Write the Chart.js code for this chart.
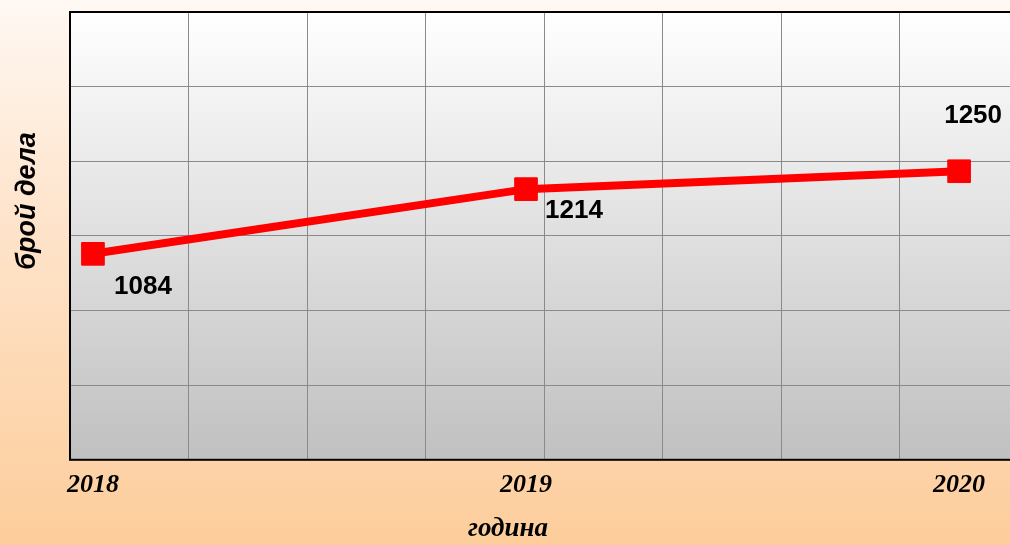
<!DOCTYPE html>
<html>
<head>
<meta charset="utf-8">
<script src="https://cdn.jsdelivr.net/npm/chart.js@4"></script>
<style>
  html, body { margin: 0; padding: 0; width: 1010px; height: 545px; overflow: hidden; }
  body { background: linear-gradient(to bottom, #fff8f3 0%, #fee4cc 40%, #fdcd9b 100%); }
  #wrap { width: 1030px; height: 545px; }
</style>
</head>
<body>
<div id="wrap"><canvas id="c" width="1030" height="545"></canvas></div>
<script>
// ---- data ----
const years = [2018, 2019, 2020];
const cases = [1084, 1214, 1250];
const yAxisTitle = 'брой дела';
const xAxisTitle = 'година';

const labelOffsets = [[50, 33], [48, 22], [14, -55]];

const bgPlugin = {
  id: 'bgPlugin',
  beforeDraw(chart) {
    const {ctx, chartArea: a} = chart;
    const g = ctx.createLinearGradient(0, a.top, 0, a.bottom);
    g.addColorStop(0, '#ffffff');
    g.addColorStop(1, '#c0c0c0');
    ctx.save();
    ctx.fillStyle = g;
    ctx.fillRect(a.left, a.top, a.right - a.left, a.bottom - a.top);
    ctx.restore();
  },
  beforeDatasetsDraw(chart) {
    const {ctx, chartArea: a} = chart;
    ctx.save();
    ctx.strokeStyle = '#000';
    ctx.lineWidth = 2;
    ctx.strokeRect(a.left, a.top, a.right - a.left, a.bottom - a.top);
    ctx.restore();
  },
  afterDraw(chart) {
    const {ctx} = chart;
    ctx.save();
    ctx.fillStyle = '#000';
    ctx.font = 'italic bold 27px "Liberation Sans", Arial, sans-serif';
    ctx.textAlign = 'center';
    ctx.textBaseline = 'middle';
    ctx.translate(28, 201);
    ctx.rotate(-Math.PI / 2);
    ctx.fillText(yAxisTitle, 0, 0);
    ctx.restore();
    ctx.save();
    ctx.fillStyle = '#000';
    ctx.font = 'italic bold 27px "Liberation Serif", "Times New Roman", serif';
    ctx.textAlign = 'center';
    ctx.textBaseline = 'middle';
    ctx.fillText(xAxisTitle, 508, 529);
    ctx.restore();
    const meta = chart.getDatasetMeta(0);
    ctx.save();
    ctx.fillStyle = '#000';
    ctx.font = 'bold 26px "Liberation Sans", Arial, sans-serif';
    ctx.textAlign = 'center';
    ctx.textBaseline = 'middle';
    meta.data.forEach((pt, i) => {
      const [dx, dy] = labelOffsets[i];
      ctx.fillText(String(cases[i]), pt.x + dx, pt.y + dy);
    });
    ctx.restore();
  }
};

new Chart(document.getElementById('c'), {
  type: 'line',
  data: {
    datasets: [{
      data: years.map((y, i) => ({x: y, y: cases[i]})),
      borderColor: '#ff0000',
      backgroundColor: '#ff0000',
      borderWidth: 8,
      tension: 0,
      pointStyle: 'rect',
      pointRadius: 16,
      pointHoverRadius: 16,
      pointBorderWidth: 1,
      pointBorderColor: '#ff0000',
      pointBackgroundColor: '#ff0000',
      fill: false
    }]
  },
  options: {
    responsive: false,
    animation: false,
    events: [],
    layout: { autoPadding: false, padding: { left: 70, top: 12, right: 12, bottom: 34 } },
    plugins: { legend: { display: false }, tooltip: { enabled: false } },
    scales: {
      x: {
        type: 'linear',
        position: 'bottom',
        min: 2017.947,
        max: 2020.136,
        afterBuildTicks: s => { s.ticks = years.map(v => ({value: v})); },
        grid: { display: false, drawTicks: false },
        border: { display: false },
        ticks: {
          padding: 10,
          color: '#000',
          maxRotation: 0,
          autoSkip: false,
          font: { family: '"Liberation Serif", "Times New Roman", serif', size: 26, style: 'italic', weight: 'bold' },
          callback: v => String(v)
        }
      },
      xg: {
        type: 'linear',
        position: 'top',
        min: 0,
        max: 8,
        ticks: { display: false, stepSize: 1 },
        grid: { color: '#8a8a8a', lineWidth: 1, drawTicks: false },
        border: { display: false }
      },
      y: {
        min: 670,
        max: 1570,
        ticks: { display: false, stepSize: 150 },
        grid: { color: '#8a8a8a', lineWidth: 1, drawTicks: false },
        border: { display: false }
      }
    }
  },
  plugins: [bgPlugin]
});
</script>
</body>
</html>
